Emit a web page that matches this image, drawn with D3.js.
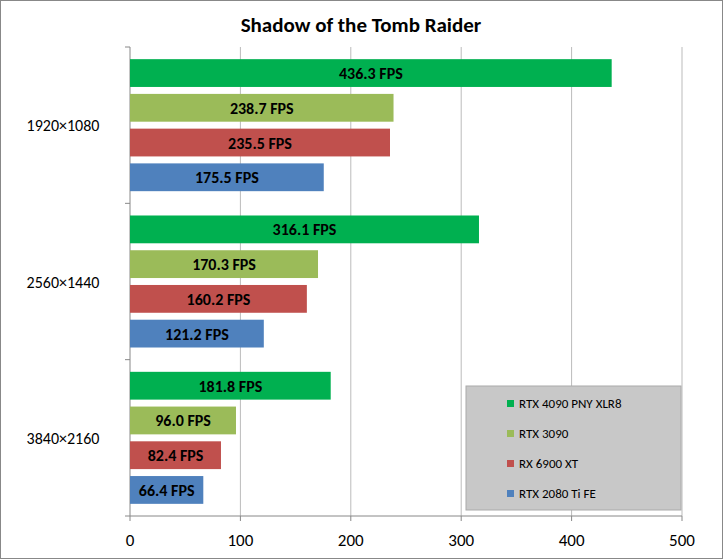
<!DOCTYPE html>
<html><head><meta charset="utf-8">
<script src="https://cdn.jsdelivr.net/npm/d3@7"></script>
<style>body{margin:0;background:#fff}text{font-family:Calibri,"Liberation Sans",Carlito,sans-serif}</style>
</head><body><svg id="c" width="723" height="559"></svg>
<script>
const categories = ["1920×1080","2560×1440","3840×2160"];
const series = ["RTX 4090 PNY XLR8","RTX 3090","RX 6900 XT","RTX 2080 Ti FE"];
const colors = ["#00b050","#9bbb59","#c0504d","#4f81bd"];
const values = [
  [436.3,316.1,181.8],
  [238.7,170.3,96.0],
  [235.5,160.2,82.4],
  [175.5,121.2,66.4]
];
const xTicks = [0,100,200,300,400,500];

const svg = d3.select("#c");
svg.append("rect").attr("x",0.5).attr("y",0.5).attr("width",722).attr("height",558).attr("fill","#fff").attr("stroke","#888");
svg.append("text").attr("x",361).attr("y",32).attr("text-anchor","middle").attr("font-size",21).attr("font-weight","bold").text("Shadow of the Tomb Raider");

const L=130,R=682,T=47,B=516;
const x=d3.scaleLinear().domain([0,500]).range([L,R]);
const y=d3.scaleBand().domain(categories).range([T,B]);
const inner=d3.scaleBand().domain(d3.range(4)).range([0,y.bandwidth()]).paddingInner(0.2).paddingOuter(0.35);

const g=svg.append("g");
xTicks.forEach(t=>{ if(t>0) g.append("line").attr("x1",x(t)).attr("x2",x(t)).attr("y1",T).attr("y2",B).attr("stroke","#bbb");});
g.append("line").attr("x1",L).attr("x2",L).attr("y1",T).attr("y2",B).attr("stroke","#888");
g.append("line").attr("x1",L).attr("x2",R).attr("y1",B).attr("y2",B).attr("stroke","#888");
[T,T+y.bandwidth(),T+2*y.bandwidth(),B].forEach(v=>g.append("line").attr("x1",L-5).attr("x2",L).attr("y1",v).attr("y2",v).attr("stroke","#888"));
xTicks.forEach(t=>{
  g.append("line").attr("x1",x(t)).attr("x2",x(t)).attr("y1",B).attr("y2",B+5).attr("stroke","#888");
  g.append("text").attr("x",x(t)).attr("y",B+30).attr("text-anchor","middle").attr("font-size",17).text(t);
});
categories.forEach((c,ci)=>{
  g.append("text").attr("x",63).attr("y",y(c)+y.bandwidth()/2+6).attr("text-anchor","middle").attr("font-size",16).text(c);
  series.forEach((s,si)=>{
    const v=values[si][ci], yy=y(c)+inner(si);
    g.append("rect").attr("x",x(0)).attr("y",yy).attr("width",x(v)-x(0)).attr("height",inner.bandwidth()).attr("fill",colors[si]);
    g.append("text").attr("x",(x(0)+x(v))/2).attr("y",yy+inner.bandwidth()/2+6).attr("text-anchor","middle").attr("font-size",16).attr("font-weight","bold").text(v.toFixed(1)+" FPS");
  });
});
const lg=svg.append("g");
lg.append("rect").attr("x",466).attr("y",386).attr("width",215).attr("height",124).attr("fill","#c8c8c8").attr("stroke","#aaa");
series.forEach((s,i)=>{
  const yy=404+i*30;
  lg.append("rect").attr("x",507).attr("y",yy-4).attr("width",7).attr("height",7).attr("fill",colors[i]);
  lg.append("text").attr("x",519).attr("y",yy+4).attr("font-size",13).text(s);
});
</script></body></html>
